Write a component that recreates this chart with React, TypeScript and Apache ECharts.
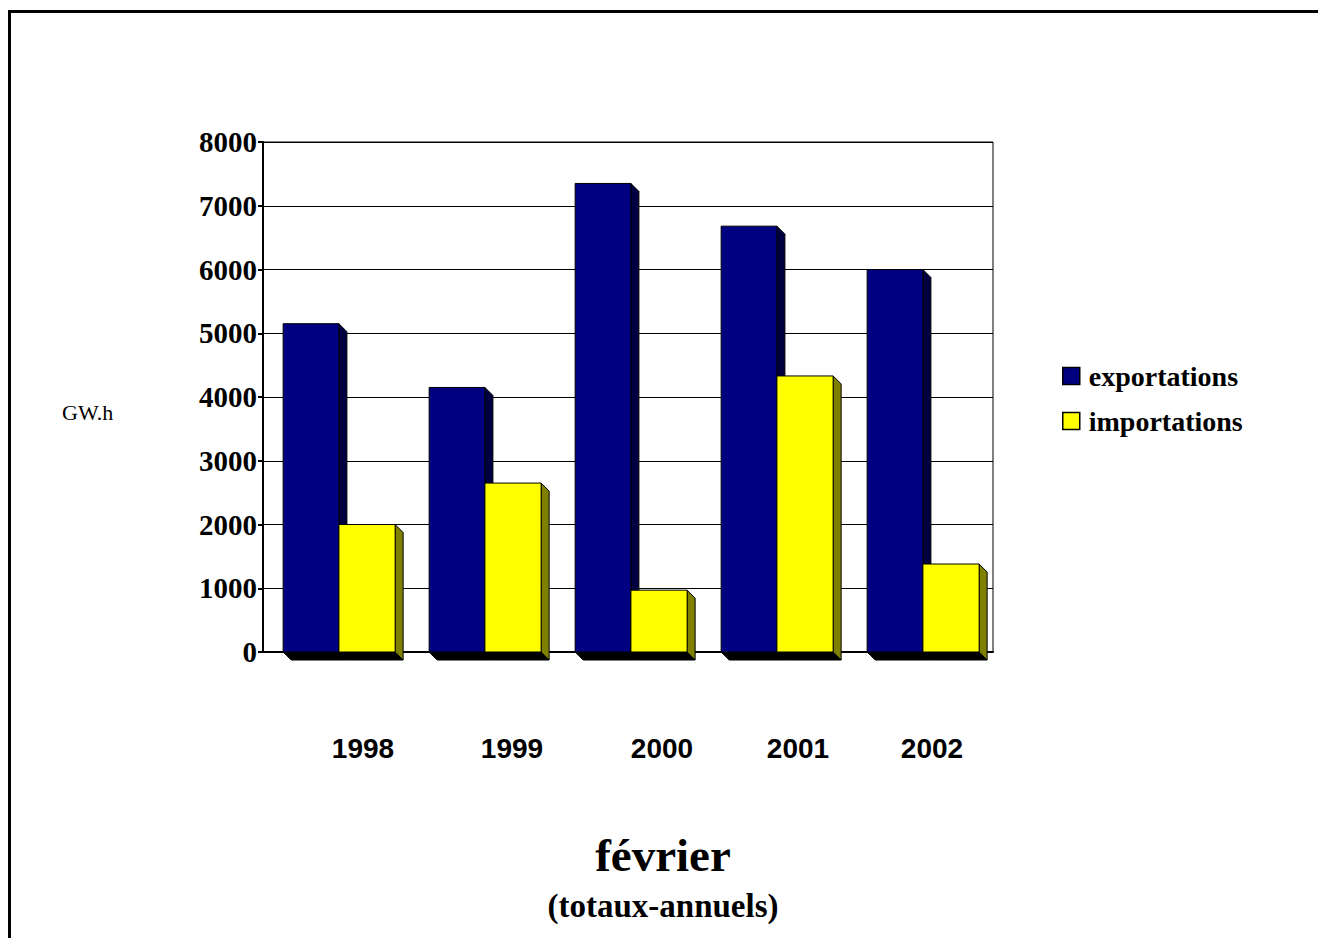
import React, { useEffect, useRef } from "react";
import * as echarts from "echarts";

const years = ["1998", "1999", "2000", "2001", "2002"];
const exportations = [5150, 4150, 7350, 6680, 6000];
const importations = [2000, 2650, 970, 4330, 1380];
const yTicks = [0, 1000, 2000, 3000, 4000, 5000, 6000, 7000, 8000];
const labelShift = [54, 60, 68, 48, 24];

const DX = 8;
const DY = 8;

function make3dRenderer(startFrac: number, endFrac: number, front: string, side: string) {
  return (params: any, api: any) => {
    const idx = api.value(0);
    const val = api.value(1);
    const top = api.coord([idx, val]);
    const base = api.coord([idx, 0]);
    const band = api.size([1, 0])[0];
    const c = top[0];
    const x0 = c + band * startFrac;
    const x1 = c + band * endFrac;
    const yt = top[1];
    const yb = base[1];
    return {
      type: "group",
      children: [
        {
          type: "polygon",
          shape: { points: [[x0, yb], [x1, yb], [x1 + DX, yb + DY], [x0 + DX, yb + DY]] },
          style: { fill: "#000000", stroke: "#000000", lineWidth: 1 },
        },
        {
          type: "polygon",
          shape: { points: [[x1, yt], [x1 + DX, yt + DY], [x1 + DX, yb + DY], [x1, yb]] },
          style: { fill: side, stroke: "#000000", lineWidth: 1 },
        },
        {
          type: "rect",
          shape: { x: x0, y: yt, width: x1 - x0, height: yb - yt },
          style: { fill: front, stroke: "#000000", lineWidth: 1 },
        },
      ],
    };
  };
}

export default function App() {
  const ref = useRef<HTMLDivElement>(null);
  useEffect(() => {
    if (!ref.current) return;
    const chart = echarts.init(ref.current, null, { renderer: "svg" });
    const rich: any = {};
    labelShift.forEach((p, i) => {
      rich["l" + i] = {
        fontFamily: "Liberation Sans, Arial, sans-serif",
        fontWeight: "bold",
        fontSize: 28,
        color: "#000",
        padding: [0, 0, 0, p],
      };
    });
    const serif = "Liberation Serif, Times New Roman, serif";
    chart.setOption({
      animation: false,
      backgroundColor: "#ffffff",
      title: {
        text: "février",
        subtext: "(totaux-annuels)",
        left: 663,
        textAlign: "center",
        top: 831,
        padding: 0,
        itemGap: 11,
        textStyle: { fontFamily: serif, fontWeight: "bold", fontSize: 47, color: "#000" },
        subtextStyle: { fontFamily: serif, fontWeight: "bold", fontSize: 33, color: "#000" },
      },
      legend: {
        orient: "vertical",
        left: 1057,
        top: 357,
        itemWidth: 17,
        itemHeight: 17,
        itemGap: 17,
        icon: "rect",
        itemStyle: { borderColor: "#000", borderWidth: 1.5 },
        textStyle: {
          fontFamily: serif,
          fontWeight: "bold",
          fontSize: 28,
          color: "#000",
          padding: [0, 0, 0, 4],
        },
        data: ["exportations", "importations"],
      },
      grid: {
        left: 263,
        top: 142,
        width: 730,
        height: 510,
        show: true,
        borderColor: "#000",
        borderWidth: 1,
        backgroundColor: "transparent",
      },
      xAxis: {
        type: "category",
        data: years,
        axisLine: { lineStyle: { color: "#000", width: 2 } },
        axisTick: { show: false },
        axisLabel: {
          margin: 82,
          formatter: (v: string, i: number) => `{l${i}|${v}}`,
          rich,
        },
      },
      yAxis: {
        type: "value",
        min: yTicks[0],
        max: yTicks[yTicks.length - 1],
        interval: 1000,
        axisLine: { show: true, lineStyle: { color: "#000", width: 2 } },
        axisTick: { show: true, length: 5, lineStyle: { color: "#000", width: 2 } },
        splitLine: { lineStyle: { color: "#000", width: 1 } },
        axisLabel: {
          margin: 6,
          formatter: (v: number) => String(v),
          fontFamily: serif,
          fontWeight: "bold",
          fontSize: 29,
          color: "#000",
        },
      },
      graphic: [
        {
          type: "rect",
          shape: { x: 9.5, y: 11.5, width: 1400, height: 1000 },
          style: { fill: "none", stroke: "#000", lineWidth: 3 },
          silent: true,
        },
        {
          type: "text",
          x: 62,
          y: 412,
          style: {
            text: "GW.h",
            fontFamily: serif,
            fontSize: 22,
            fill: "#000",
            verticalAlign: "middle",
          },
        },
      ],
      series: [
        {
          name: "exportations",
          type: "custom",
          itemStyle: { color: "#000080" },
          encode: { x: 0, y: 1 },
          data: exportations.map((v, i) => [i, v]),
          renderItem: make3dRenderer(-0.362, 0.02, "#000080", "#000040"),
        },
        {
          name: "importations",
          type: "custom",
          itemStyle: { color: "#ffff00" },
          encode: { x: 0, y: 1 },
          data: importations.map((v, i) => [i, v]),
          renderItem: make3dRenderer(0.02, 0.405, "#ffff00", "#808000"),
        },
      ],
    });
    return () => chart.dispose();
  }, []);
  return (
    <div
      ref={ref}
      style={{ position: "absolute", left: 0, top: 0, width: 1318, height: 938 }}
    />
  );
}
